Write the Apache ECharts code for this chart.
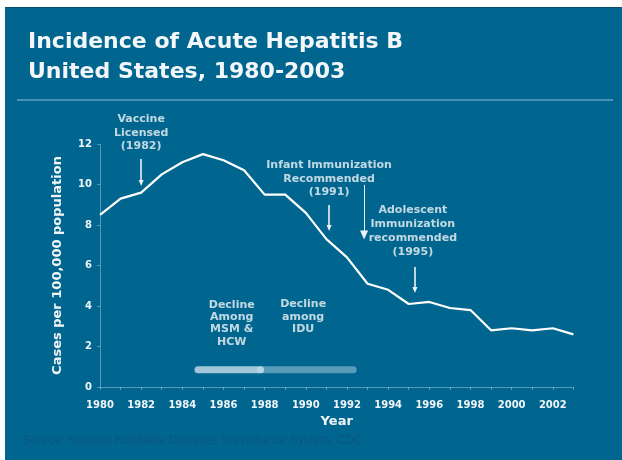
<!DOCTYPE html>
<html>
<head>
<meta charset="utf-8">
<script src="https://cdn.jsdelivr.net/npm/echarts@6/dist/echarts.min.js"></script>
<style>
  html, body { margin: 0; padding: 0; background: #ffffff; }
  #panel { position: absolute; left: 5px; top: 7px; width: 617px; height: 453px;
           background: #00668f; border-top: 1px solid #0b4f70; box-sizing: border-box; }
  #chart { position: absolute; left: 0; top: 0; width: 622px; height: 460px; }
</style>
</head>
<body>
<div id="panel"></div>
<div id="chart"></div>
<script>
// Acute hepatitis B incidence, cases per 100,000 population
const years = [1980, 1981, 1982, 1983, 1984, 1985, 1986, 1987, 1988, 1989, 1990, 1991,
               1992, 1993, 1994, 1995, 1996, 1997, 1998, 1999, 2000, 2001, 2002, 2003];
const incidence = [8.5, 9.3, 9.6, 10.5, 11.1, 11.5, 11.2, 10.7, 9.5, 9.5, 8.6, 7.3,
                   6.4, 5.1, 4.8, 4.1, 4.2, 3.9, 3.8, 2.8, 2.9, 2.8, 2.9, 2.6];

const yTicks = [0, 2, 4, 6, 8, 10, 12];

// Text notes placed in chart units (year, rate)
const noteText = ['Vaccine\nLicensed\n(1982)',
                  'Infant Immunization\nRecommended\n(1991)',
                  'Adolescent\nImmunization\nrecommended\n(1995)',
                  'Decline\nAmong\nMSM &\nHCW',
                  'Decline\namong\nIDU'];
const noteYear = [1982, 1991.13, 1995.2, 1986.4, 1989.87];
const noteRate = [12.54, 10.27, 7.70, 3.14, 3.46];

// Pointer arrows (year, from rate, to rate)
const arrowYear = [1982, 1991.13, 1992.83, 1995.3];
const arrowFrom = [11.26, 8.99, 9.98, 5.93];
const arrowTo   = [10.07, 7.85, 7.51, 4.79];

// Periods of decline among risk groups
const periodStart = [1984.76, 1987.8];
const periodEnd   = [1987.8, 1992.3];
const periodRate  = 0.85;

const FONT = '"DejaVu Sans", Verdana, sans-serif';
const TXT = '#f1f5f8';
const AXIS = 'rgba(190, 215, 230, 0.45)';

const chart = echarts.init(document.getElementById('chart'), null, { renderer: 'canvas' });

const noteLineHeight = [13.5, 13.5, 14, 12.3, 12.3];

chart.setOption({
  backgroundColor: 'transparent',
  animation: false,
  title: {
    text: 'Incidence of Acute Hepatitis B\nUnited States, 1980-2003',
    left: 28, top: 27, padding: 0,
    textStyle: { color: '#f4f7f9', fontFamily: FONT, fontWeight: 'bold', fontSize: 22, lineHeight: 30 }
  },
  graphic: [
    { type: 'rect', shape: { x: 17, y: 99, width: 596, height: 2 }, style: { fill: '#4b91b6' } },
    { type: 'text', left: 23, top: 435,
      style: { text: 'Source: National Notifiable Diseases Surveillance System, CDC',
               fill: '#0b5680', font: '12px "Liberation Sans", Arial, sans-serif' } }
  ],
  grid: { left: 100, right: 48.6, top: 144, bottom: 73 },
  xAxis: {
    type: 'value', min: 1980, max: 2003, interval: 1,
    name: 'Year', nameLocation: 'middle', nameGap: 23,
    nameTextStyle: { color: TXT, fontFamily: FONT, fontWeight: 'bold', fontSize: 13 },
    axisLine: { lineStyle: { color: AXIS, width: 1 } },
    axisTick: { show: true, length: 3, lineStyle: { color: AXIS } },
    splitLine: { show: false },
    axisLabel: {
      margin: 13, color: TXT, fontFamily: FONT, fontWeight: 'bold', fontSize: 10,
      formatter: v => (v % 2 === 0 ? String(v) : '')
    }
  },
  yAxis: {
    type: 'value', min: 0, max: 12, interval: 2,
    name: 'Cases per 100,000 population', nameLocation: 'middle', nameRotate: 90, nameGap: 36,
    nameTextStyle: { color: TXT, fontFamily: FONT, fontWeight: 'bold', fontSize: 13 },
    axisLine: { show: true, lineStyle: { color: AXIS, width: 1 } },
    axisTick: { show: true, length: 3, lineStyle: { color: AXIS } },
    splitLine: { show: false },
    axisLabel: { margin: 8, color: TXT, fontFamily: FONT, fontWeight: 'bold', fontSize: 10,
                 formatter: v => (yTicks.indexOf(v) >= 0 ? String(v) : '') }
  },
  series: [
    {
      name: 'Incidence', type: 'line', z: 5,
      data: years.map((y, i) => [y, incidence[i]]),
      symbol: 'none',
      lineStyle: { color: '#ffffff', width: 2.2 }
    },
    {
      name: 'MSM & HCW', type: 'line', z: 3, symbol: 'none', silent: true,
      data: [[periodStart[0], periodRate], [periodEnd[0], periodRate]],
      lineStyle: { color: 'rgba(215, 232, 242, 0.75)', width: 7, cap: 'round' }
    },
    {
      name: 'IDU', type: 'line', z: 2, symbol: 'none', silent: true,
      data: [[periodStart[1], periodRate], [periodEnd[1], periodRate]],
      lineStyle: { color: 'rgba(160, 200, 222, 0.55)', width: 7, cap: 'round' }
    },
    {
      name: 'Notes', type: 'scatter', z: 6, symbolSize: 0, silent: true, clip: false,
      data: noteText.map((t, i) => ({
        value: [noteYear[i], noteRate[i]],
        label: { formatter: t, lineHeight: noteLineHeight[i] }
      })),
      label: {
        show: true, position: 'inside', align: 'center', verticalAlign: 'middle',
        color: TXT, fontFamily: FONT, fontWeight: 'bold', fontSize: 11
      },
      markLine: {
        silent: true, animation: false,
        label: { show: false },
        data: arrowYear.map((x, i) => [
          { coord: [x, arrowFrom[i]], symbol: 'none' },
          { coord: [x, arrowTo[i]], symbol: 'triangle',
            symbolSize: i === 2 ? [8, 9] : [5, 6], symbolRotate: 180,
            lineStyle: { width: i === 2 ? 1 : 1.6 } }
        ]),
        lineStyle: { color: '#eef3f6', type: 'solid', width: 1.6 }
      }
    }
  ]
});
</script>
</body>
</html>
